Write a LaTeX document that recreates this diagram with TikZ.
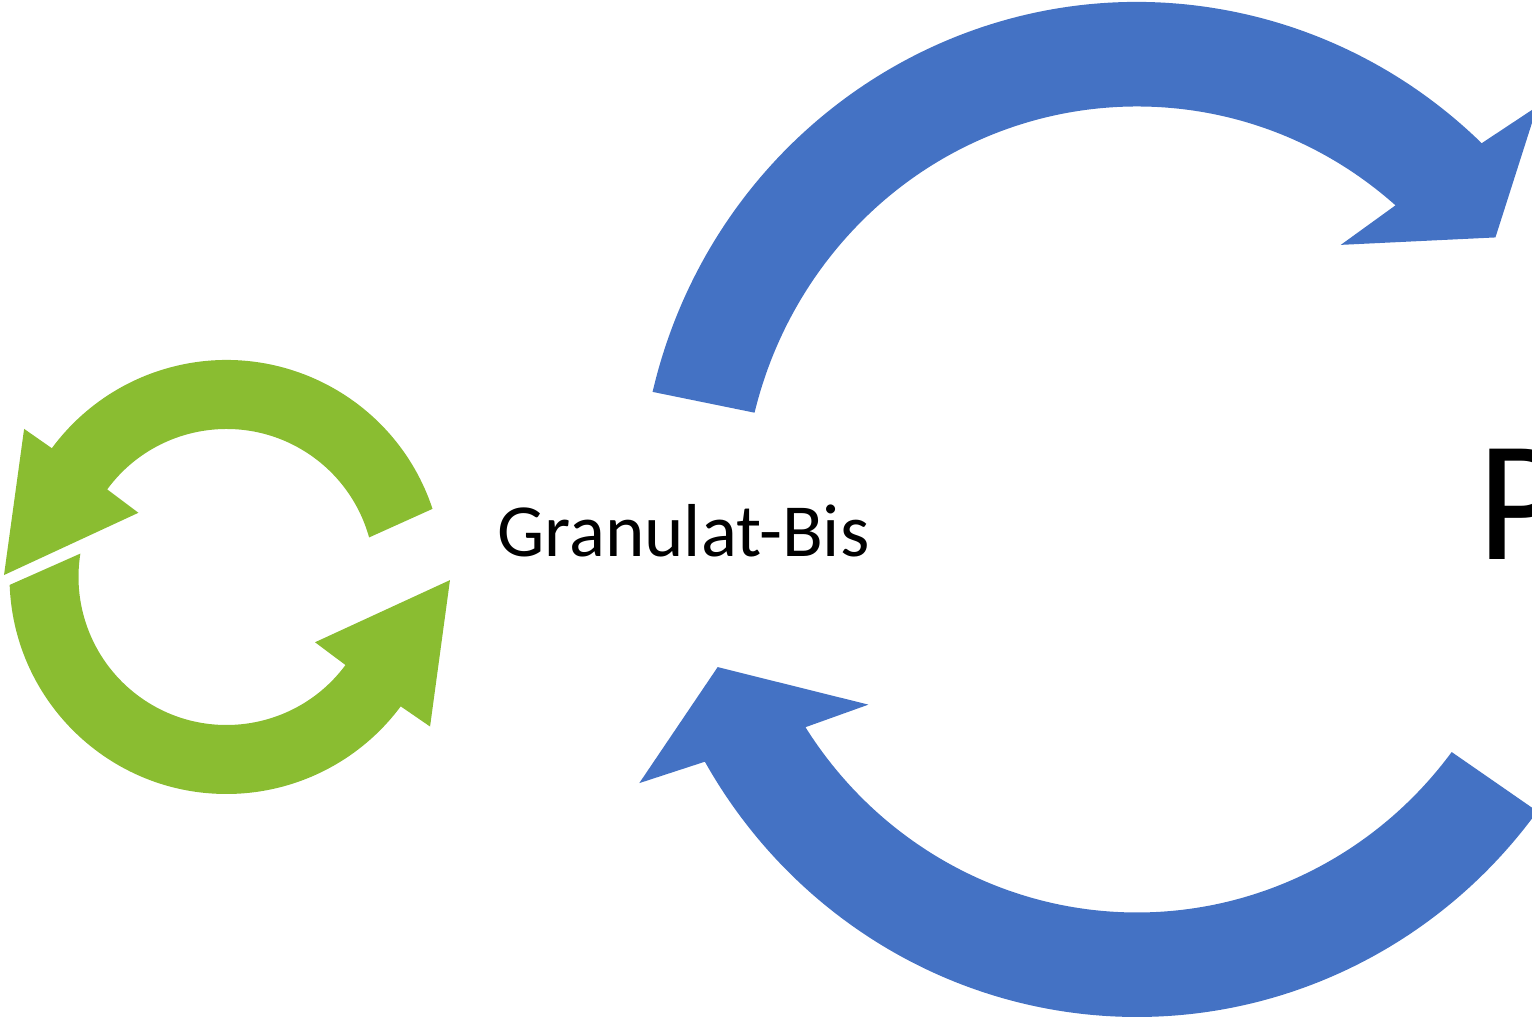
\documentclass[tikz,border=0pt]{standalone}
\usepackage{fontspec}
\setmainfont{Carlito}
\usetikzlibrary{calc}

\definecolor{cycleblue}{RGB}{68,114,196}
\definecolor{cyclegreen}{RGB}{138,189,49}

\tikzset{
  bluearrow/.style={fill=cycleblue},
  greenarrow/.style={fill=cyclegreen},
  every node/.style={inner sep=0pt, anchor=base west}
}

\begin{document}
\begin{tikzpicture}[x=1pt, y=1pt]
			\useasboundingbox (0,0) rectangle (1532,1017);
			\clip (0,0) rectangle (1532,1017);
			
			% Centres of the two cycles
			\coordinate (bc) at (1137,507.5);
			\coordinate (gc) at (226.5,440);
			
			% Blue cycle, upper arrow
			\fill[bluearrow] ($(bc)+(166.6:498pt and 507.5pt)$)
				arc[start angle=166.6, end angle=46.2, x radius=498pt, y radius=507.5pt]
				-- ($(bc)+(45.2:568pt)$) -- ($(bc)+(37.2:450pt)$) -- ($(bc)+(52.4:334pt)$)
				-- ($(bc)+(49:394pt and 403pt)$)
				arc[start angle=49, end angle=166.1, x radius=394pt, y radius=403pt] -- cycle;
			
			% Blue cycle, lower arrow
			\fill[bluearrow] ($(bc)+(-36.5:498pt and 507.5pt)$)
				arc[start angle=-36.5, end angle=-150.2, x radius=498pt, y radius=507.5pt]
				-- ($(bc)+(208.8:568pt)$) -- ($(bc)+(200.6:448pt)$) -- ($(bc)+(216:332pt)$)
				-- ($(bc)+(-147.3:394pt and 403pt)$)
				arc[start angle=-147.3, end angle=-37, x radius=394pt, y radius=403pt] -- cycle;
			
			% Green cycle, upper arrow
			\fill[greenarrow] ($(gc)+(18.3:217pt)$)
				arc[start angle=18.3, end angle=143.6, radius=217pt]
				-- ($(gc)+(143.8:250.8pt)$) -- ($(gc)+(179.5:222.5pt)$) -- ($(gc)+(143.9:109pt)$)
				-- ($(gc)+(143.7:148pt)$)
				arc[start angle=143.7, end angle=15.5, radius=148pt] -- cycle;
			
			% Green cycle, lower arrow
			\fill[greenarrow] ($(gc)+(182.1:217pt)$)
				arc[start angle=182.1, end angle=323.4, radius=217pt]
				-- ($(gc)+(323.7:252.6pt)$) -- ($(gc)+(359.2:223.5pt)$) -- ($(gc)+(323.6:110pt)$)
				-- ($(gc)+(323.5:148pt)$)
				arc[start angle=323.5, end angle=170.9, radius=148pt] -- cycle;
			
			% Labels
			\node (granulat) at (497,460) {\fontsize{75}{90}\selectfont Granulat-Bis};
			\node (bigp) at (1477,457) {\fontsize{172}{200}\selectfont P};
		\end{tikzpicture}
\end{document}
